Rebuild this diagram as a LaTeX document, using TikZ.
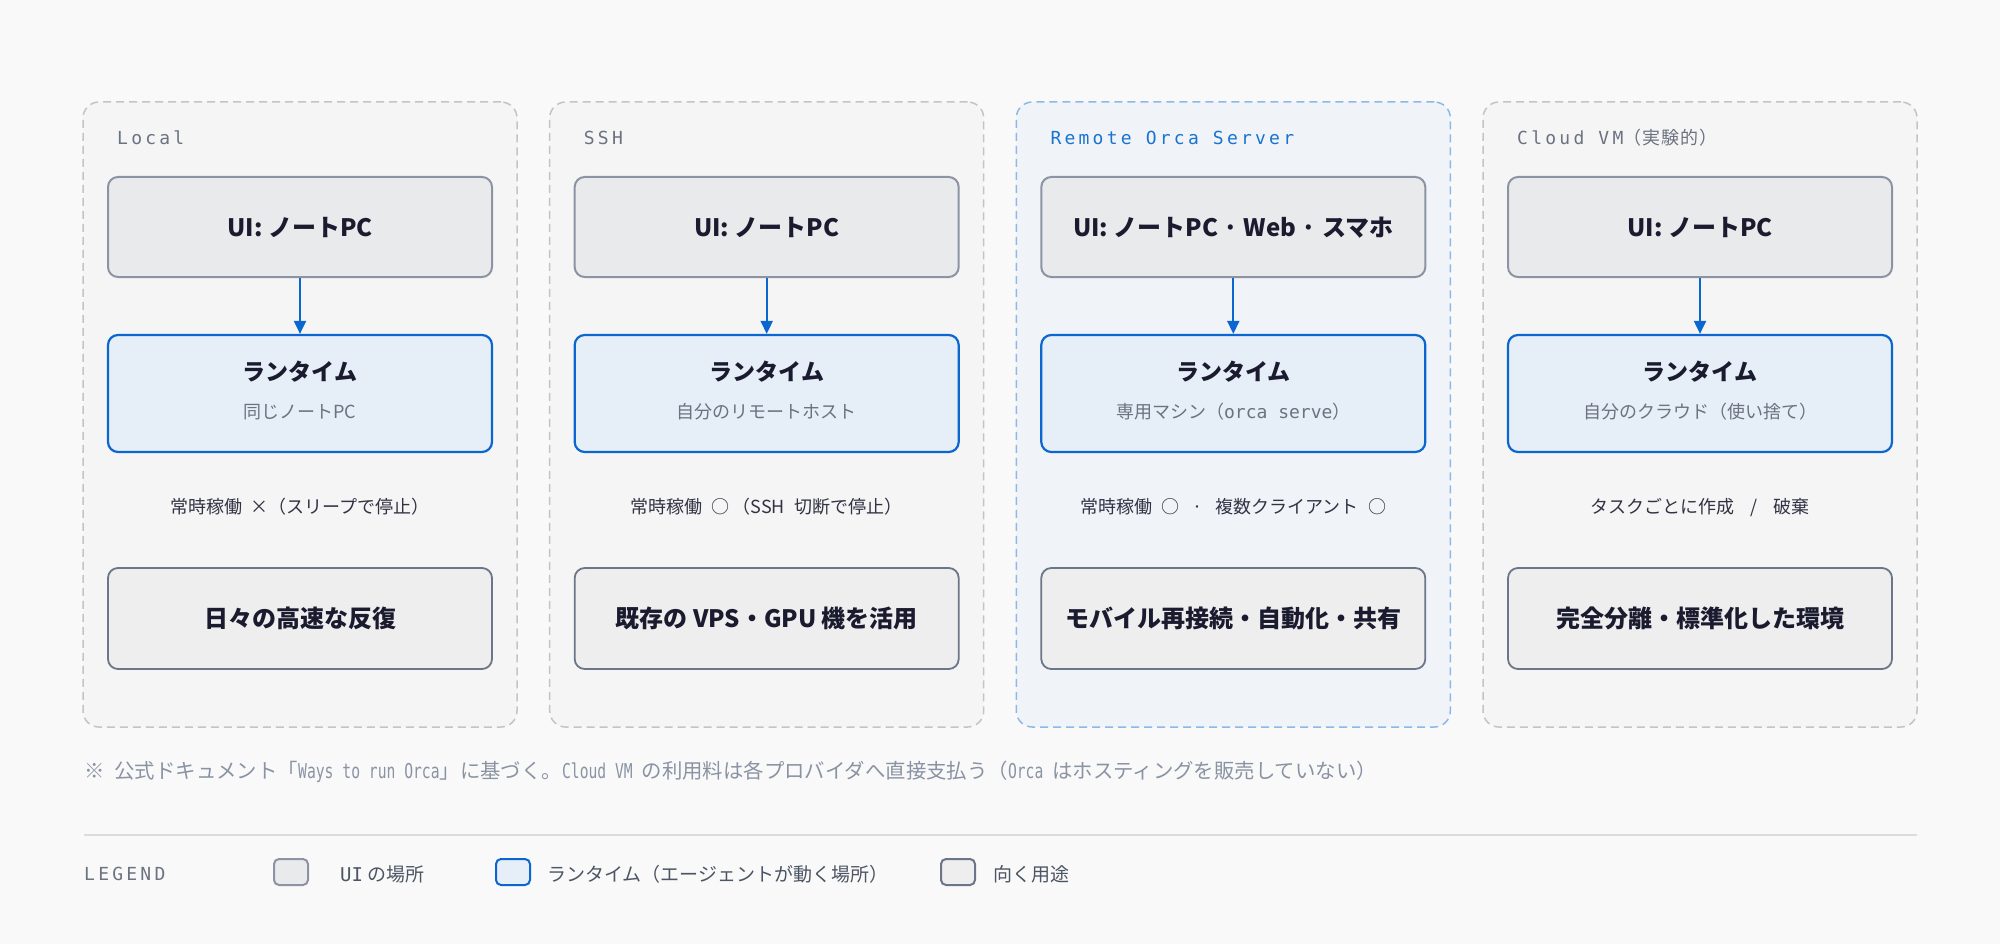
\documentclass[tikz,border=0pt]{standalone}
\usepackage{fontspec}
\setmainfont{Noto Sans CJK JP}
\setmonofont{DejaVu Sans Mono}
\newfontfamily\ttlfont[LetterSpace=18]{DejaVu Sans Mono}
\newfontfamily\jpttlfont[LetterSpace=6]{Noto Sans CJK JP}
\newfontfamily\fnmono[FakeStretch=0.72]{DejaVu Sans Mono}
\usetikzlibrary{arrows.meta}
\definecolor{bgc}{HTML}{F9F9F9}
\definecolor{panelfill}{HTML}{F5F5F5}
\definecolor{panelline}{HTML}{C4C4C4}
\definecolor{remfill}{HTML}{F0F4F8}
\definecolor{remline}{HTML}{8DB8E8}
\definecolor{uifill}{HTML}{E9EAEC}
\definecolor{uiline}{HTML}{8C94A3}
\definecolor{rtfill}{HTML}{E6EEF7}
\definecolor{rtline}{HTML}{0B67CF}
\definecolor{usefill}{HTML}{EEEEEE}
\definecolor{useline}{HTML}{6B7689}
\definecolor{darktxt}{HTML}{1B1B2F}
\definecolor{subtxt}{HTML}{6B7280}
\definecolor{remtxt}{HTML}{1A73D0}
\definecolor{fntxt}{HTML}{8A93A3}
\definecolor{legtxt}{HTML}{4B5563}
\definecolor{legline}{HTML}{DCDCDC}
\tikzset{
  panel/.style={draw=panelline, fill=panelfill, line width=1.5pt, dash pattern=on 8pt off 5pt, rounded corners=16pt, minimum width=434pt, minimum height=625pt, inner sep=0pt},
  rempanel/.style={panel, draw=remline, fill=remfill},
  basebox/.style={line width=2pt, rounded corners=10pt, minimum width=384pt, inner sep=0pt, text=darktxt, font=\fontsize{24}{28}\selectfont\bfseries, text height=21.1pt, text depth=2.9pt},
  uibox/.style={basebox, draw=uiline, fill=uifill, minimum height=100pt},
  rtbox/.style={basebox, draw=rtline, fill=rtfill, minimum height=117pt, line width=2.2pt},
  usebox/.style={basebox, draw=useline, fill=usefill, minimum height=101pt, line width=1.8pt},
  rttitle/.style={inner sep=0pt, text=darktxt, font=\fontsize{23}{27}\selectfont\bfseries, text height=20.2pt, text depth=2.8pt},
  rtsub/.style={inner sep=0pt, text=subtxt, font=\fontsize{18}{22}\selectfont, text height=15.8pt, text depth=2.2pt},
  midtxt/.style={inner sep=0pt, text=darktxt!90, font=\fontsize{18}{22}\selectfont, text height=15.8pt, text depth=2.2pt},
  ttl/.style={inner sep=0pt, anchor=west, text=subtxt, font=\fontsize{18}{22}\selectfont\ttlfont, text height=15.8pt, text depth=2.2pt},
  arr/.style={draw=rtline, line width=2pt, -{Triangle[length=13pt,width=12pt]}},
  fn/.style={inner sep=0pt, anchor=west, text=fntxt, font=\fontsize{20.4}{24}\selectfont, text height=17.9pt, text depth=2.5pt},
  swatch/.style={line width=2pt, rounded corners=5pt, minimum width=34pt, minimum height=26pt, inner sep=0pt},
  legt/.style={inner sep=0pt, anchor=west, text=legtxt, font=\fontsize{19}{23}\selectfont, text height=16.7pt, text depth=2.3pt},
}
\newcommand\mt[1]{{\ttfamily #1}}
\newcommand\fm[1]{{\fnmono #1}}
\begin{document}
\begin{tikzpicture}[x=1pt,y=-1pt]
\fill[bgc] (0,0) rectangle (2000,944);
\useasboundingbox (0,0) rectangle (2000,944);

% ---------- panels
\node[panel] (p1) at (300,414.5) {};
\node[panel] (p2) at (766.7,414.5) {};
\node[rempanel] (p3) at (1233.3,414.5) {};
\node[panel] (p4) at (1700,414.5) {};

% ---------- titles
\node[ttl] (t1) at (117,138) {Local};
\node[ttl] (t2) at (583.7,138) {SSH};
\node[ttl, text=remtxt] (t3) at (1050.3,138) {Remote Orca Server};
\node[ttl] (t4) at (1517,138) {Cloud VM{\jpttlfont （実験的）}};

% ---------- column 1
\node[uibox] (ui1) at (300,227) {UI: ノートPC};
\node[rtbox] (rt1) at (300,393.5) {};
\node[rttitle] (rt1t) at (300,372) {ランタイム};
\node[rtsub] (rt1s) at (300,412) {同じノートPC};
\node[midtxt] (m1) at (300,507) {常時稼働\ \ ×（スリープで停止）};
\node[usebox] (u1) at (300,618.5) {日々の高速な反復};
\draw[arr] (ui1.south) -- (rt1.north);

% ---------- column 2
\node[uibox] (ui2) at (766.7,227) {UI: ノートPC};
\node[rtbox] (rt2) at (766.7,393.5) {};
\node[rttitle] (rt2t) at (766.7,372) {ランタイム};
\node[rtsub] (rt2s) at (766.7,412) {自分のリモートホスト};
\node[midtxt] (m2) at (766.7,507) {常時稼働\hspace{9pt}○\hspace{3pt}（SSH\hspace{10pt}切断で停止）};
\node[usebox] (u2) at (766.7,618.5) {既存の VPS・GPU 機を活用};
\draw[arr] (ui2.south) -- (rt2.north);

% ---------- column 3
\node[uibox] (ui3) at (1233.3,227) {UI: ノートPC · Web · スマホ};
\node[rtbox] (rt3) at (1233.3,393.5) {};
\node[rttitle] (rt3t) at (1233.3,372) {ランタイム};
\node[rtsub] (rt3s) at (1233.3,412) {専用マシン（\mt{orca serve}）};
\node[midtxt] (m3) at (1233.3,507) {常時稼働\hspace{9pt}○\hspace{13pt}·\hspace{13pt}複数クライアント\hspace{10pt}○};
\node[usebox] (u3) at (1233.3,618.5) {モバイル再接続・自動化・共有};
\draw[arr] (ui3.south) -- (rt3.north);

% ---------- column 4
\node[uibox] (ui4) at (1700,227) {UI: ノートPC};
\node[rtbox] (rt4) at (1700,393.5) {};
\node[rttitle] (rt4t) at (1700,372) {ランタイム};
\node[rtsub] (rt4s) at (1700,412) {自分のクラウド（使い捨て）};
\node[midtxt] (m4) at (1700,507) {タスクごとに作成\hspace{16pt}/\hspace{16pt}破棄};
\node[usebox] (u4) at (1700,618.5) {完全分離・標準化した環境};
\draw[arr] (ui4.south) -- (rt4.north);

% ---------- footnote
\node[fn] (fn) at (84,771) {※\hspace{10pt}公式ドキュメント「\fm{Ways to run Orca}」に基づく。\fm{Cloud VM }の利用料は各プロバイダへ直接支払う（\fm{Orca }はホスティングを販売していない）};

% ---------- legend
\draw[legline, line width=2pt] (84,835) -- (1917,835);
\node[ttl, text=subtxt] (lg) at (84,874) {LEGEND};
\node[swatch, draw=uiline, fill=uifill] (sw1) at (291,872) {};
\node[legt] (lt1) at (340,874) {\mt{UI} の場所};
\node[swatch, draw=rtline, fill=rtfill] (sw2) at (513,872) {};
\node[legt] (lt2) at (547,874) {ランタイム（エージェントが動く場所）};
\node[swatch, draw=useline, fill=usefill] (sw3) at (958,872) {};
\node[legt] (lt3) at (993,874) {向く用途};
\end{tikzpicture}
\end{document}
